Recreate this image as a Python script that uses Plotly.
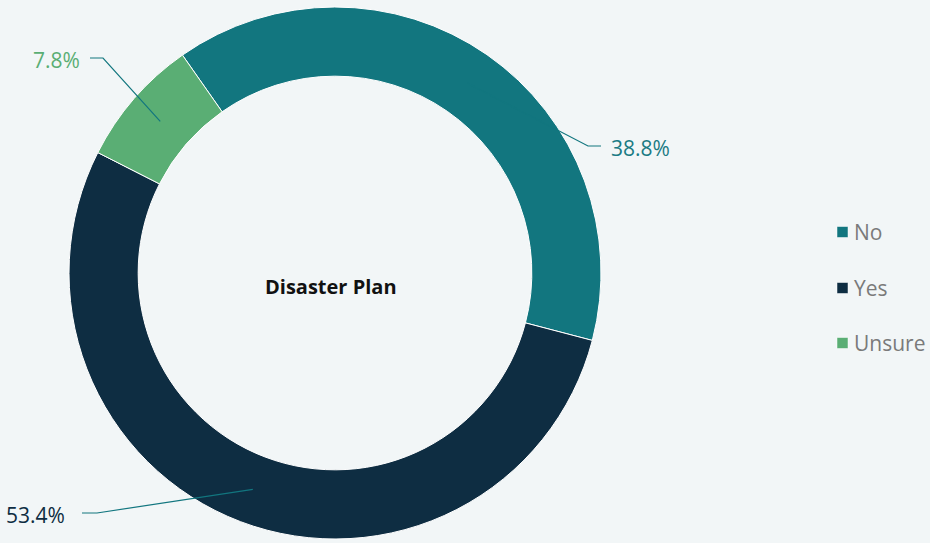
import math
import plotly.graph_objects as go

# Survey answers: "Do you have a disaster plan?"
labels = ["No", "Yes", "Unsure"]
shares = [38.8, 53.4, 7.8]
colors = ["#12767f", "#0e2d42", "#5aae74"]
text_colors = ["#1b7b84", "#0e2d42", "#5aae74"]

W, H = 930, 543
BG = "#f2f6f7"
LINE = "#12767f"
FONT = "Open Sans"

# ring geometry (pixels)
CX, CY, R_OUT, HOLE = 335, 273, 266, 0.74
ROT = -35  # first slice starts 35 deg left of 12 o'clock, clockwise

# label leader layout: elbow (x, y), end of horizontal tick, text anchor x, side
leaders = [
    (588, 146, 601, 609, "left"),
    (97, 513, 82, 67, "right"),
    (103, 58, 90, 82, "right"),
]


def px(x):
    return x / W


def py(y):
    return 1 - y / H


fig = go.Figure(
    go.Pie(
        labels=labels,
        values=shares,
        hole=HOLE,
        sort=False,
        direction="clockwise",
        rotation=ROT,
        marker=dict(colors=colors, line=dict(color="#ffffff", width=1)),
        textinfo="none",
        hoverinfo="label+percent",
        showlegend=False,
        domain=dict(x=[px(CX - R_OUT), px(CX + R_OUT)],
                    y=[py(CY + R_OUT), py(CY - R_OUT)]),
    )
)

shapes = []
annotations = []
total = sum(shares)
start = ROT
r_mid = R_OUT * (1 + HOLE) / 2
for val, tc, (ex, ey, hx, tx, side) in zip(shares, text_colors, leaders):
    span = 360 * val / total
    mid = math.radians(start + span / 2)
    start += span
    sx = CX + r_mid * math.sin(mid)
    sy = CY - r_mid * math.cos(mid)
    path = f"M {px(sx)} {py(sy)} L {px(ex)} {py(ey)} L {px(hx)} {py(ey)}"
    shapes.append(dict(type="path", path=path, xref="paper", yref="paper",
                       line=dict(color=LINE, width=1.2), layer="above"))
    annotations.append(dict(
        x=px(tx), y=py(ey + 2), xref="paper", yref="paper",
        text=f"{val:.1f}%", showarrow=False,
        xanchor="left" if side == "left" else "right", yanchor="middle",
        font=dict(family=FONT, size=21, color=tc),
    ))

# centre title
annotations.append(dict(
    x=px(331), y=py(286), xref="paper", yref="paper",
    text="<b>Disaster Plan</b>", showarrow=False,
    xanchor="center", yanchor="middle",
    font=dict(family=FONT, size=20, color="#111111"),
))

# legend
leg_y = [232, 288, 343]
for lab, col, ly in zip(labels, colors, leg_y):
    shapes.append(dict(type="rect", xref="paper", yref="paper",
                       x0=px(837), x1=px(848), y0=py(ly + 5.5), y1=py(ly - 5.5),
                       fillcolor=col, line=dict(color="#ffffff", width=0.5)))
    annotations.append(dict(
        x=px(852), y=py(ly), xref="paper", yref="paper",
        text=lab, showarrow=False, xanchor="left", yanchor="middle",
        font=dict(family=FONT, size=21, color="#7a7a7a"),
    ))

fig.update_layout(
    width=W, height=H,
    margin=dict(l=0, r=0, t=0, b=0),
    paper_bgcolor=BG, plot_bgcolor=BG,
    shapes=shapes, annotations=annotations,
)

fig.write_html("out.html")
